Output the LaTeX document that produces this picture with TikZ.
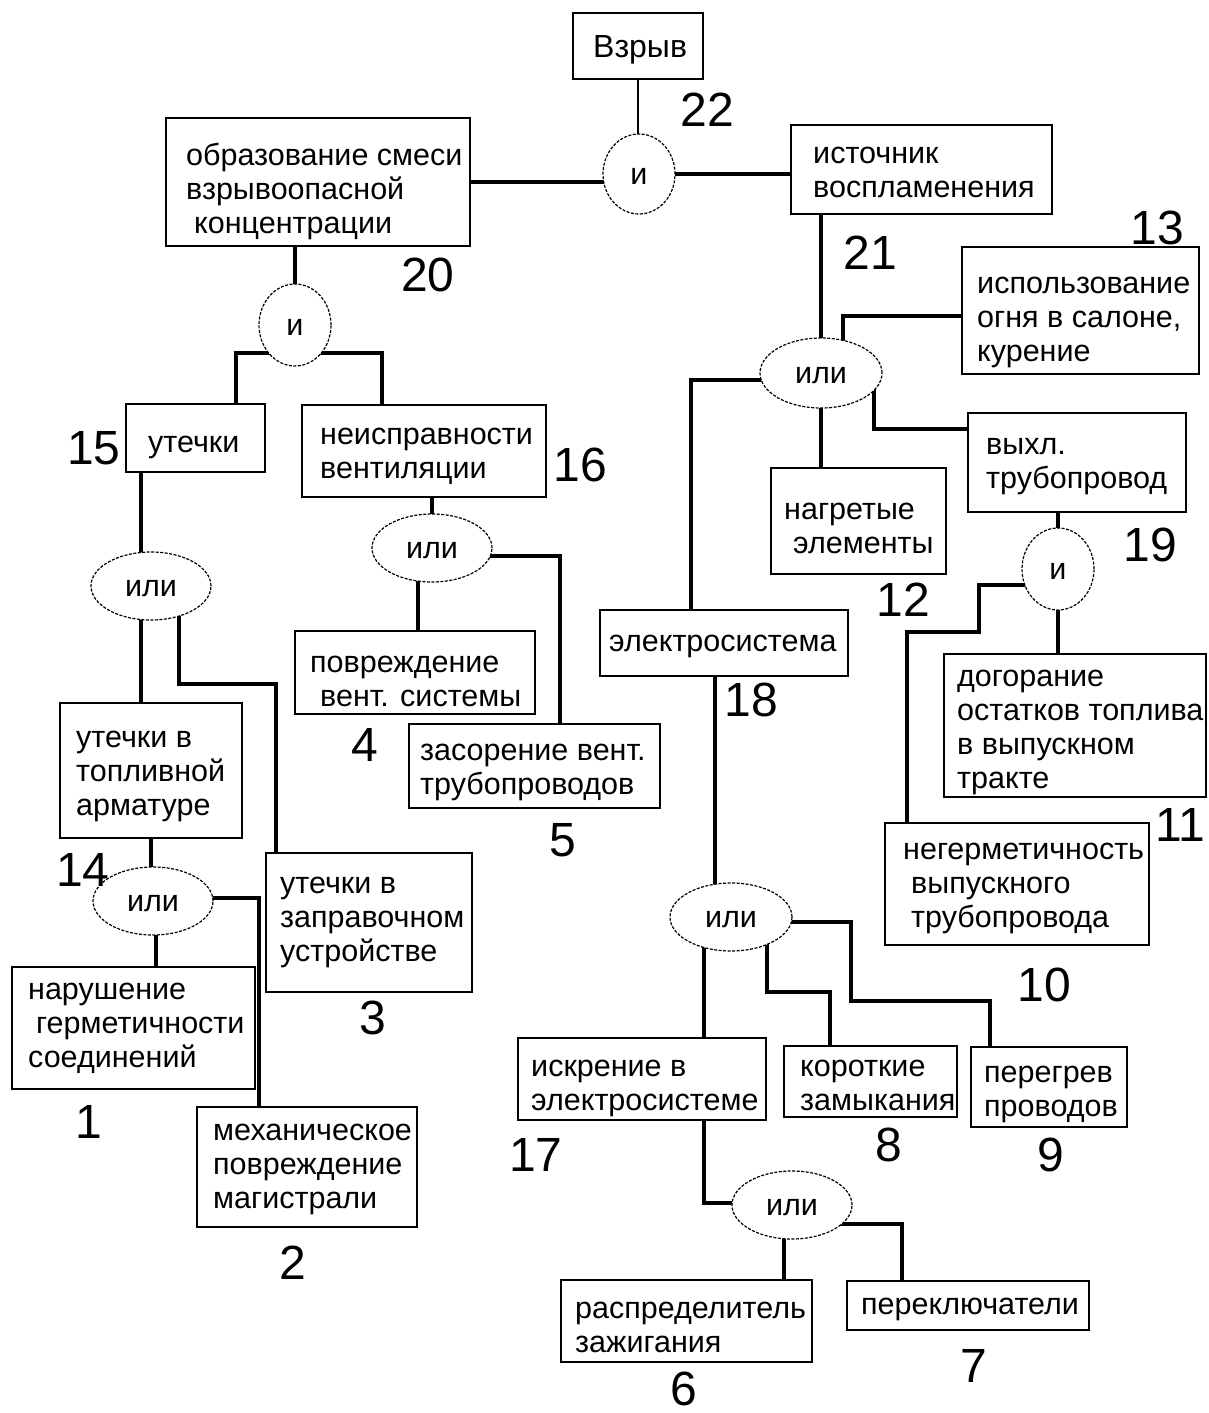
\documentclass[tikz,border=0pt]{standalone}
\usepackage{fontspec}
\setmainfont{Liberation Sans}
\usetikzlibrary{shapes.geometric,calc}
\pgfdeclarelayer{bg}
\pgfsetlayers{bg,main}
\begin{document}
\begin{tikzpicture}[x=1pt,y=-1pt,
 box/.style={draw=black, line width=1.6pt, rectangle, inner sep=0pt},
 gate/.style={ellipse, draw=black, line width=1.2pt, dash pattern=on 3pt off 1.5pt, fill=white, inner sep=0pt, text height=20pt, text depth=0pt, font=\fontsize{30.5}{34}\selectfont},
 txt/.style={anchor=west, align=left, inner sep=0pt, yshift=-4pt, font=\fontsize{30.5}{34}\selectfont},
 num/.style={inner sep=0pt, font=\fontsize{48}{50}\selectfont},
 conn/.style={line width=4pt},
 thinconn/.style={line width=2pt}]
\useasboundingbox (0,0) rectangle (1208,1413);

% boxes
\node[box, minimum width=130pt, minimum height=66pt] (B22) at (638,46) {};
\node[box, minimum width=261pt, minimum height=89pt] (B21) at (921.5,169.5) {};
\node[box, minimum width=304pt, minimum height=128pt] (B20) at (318,182) {};
\node[box, minimum width=139pt, minimum height=68pt] (B15) at (195.5,438) {};
\node[box, minimum width=244pt, minimum height=92pt] (B16) at (424,451) {};
\node[box, minimum width=237pt, minimum height=127pt] (B13) at (1080.5,310.5) {};
\node[box, minimum width=218pt, minimum height=99pt] (B19) at (1077,462.5) {};
\node[box, minimum width=175pt, minimum height=106pt] (B12) at (858.5,521) {};
\node[box, minimum width=248pt, minimum height=66pt] (B18) at (724,643) {};
\node[box, minimum width=182pt, minimum height=135pt] (B14) at (151,770.5) {};
\node[box, minimum width=240pt, minimum height=83pt] (B4) at (415,672.5) {};
\node[box, minimum width=251pt, minimum height=84pt] (B5) at (534.5,766) {};
\node[box, minimum width=206pt, minimum height=139pt] (B3) at (369,922.5) {};
\node[box, minimum width=243pt, minimum height=122pt] (B1) at (133.5,1028) {};
\node[box, minimum width=220pt, minimum height=120pt] (B2) at (307,1167) {};
\node[box, minimum width=262pt, minimum height=143pt] (B11) at (1075,725.5) {};
\node[box, minimum width=264pt, minimum height=122pt] (B10) at (1017,884) {};
\node[box, minimum width=248pt, minimum height=82pt] (B17) at (642,1079) {};
\node[box, minimum width=173pt, minimum height=71pt] (B8) at (870.5,1081.5) {};
\node[box, minimum width=156pt, minimum height=80pt] (B9) at (1049,1087) {};
\node[box, minimum width=251pt, minimum height=82pt] (B6) at (686.5,1321) {};
\node[box, minimum width=242pt, minimum height=49pt] (B7) at (968,1305.5) {};

% texts
\node[txt, font=\fontsize{32}{36}\selectfont] (T22) at (593,46) {Взрыв};
\node[txt] (T21) at (813,168) {источник\\воспламенения};
\node[txt] (T20) at (186,187) {образование смеси\\взрывоопасной\\\hspace*{8pt}концентрации};
\node[txt] (T15) at (148,443) {утечки};
\node[txt] (T16) at (320,452) {неисправности\\вентиляции};
\node[txt] (T13) at (977,318) {использование\\огня в салоне,\\курение};
\node[txt] (T19) at (986,463) {выхл.\\трубопровод};
\node[txt] (T12) at (784,524) {нагретые\\\hspace*{9pt}элементы};
\node[txt] (T18) at (609,642) {электросистема};
\node[txt] (T14) at (76,772) {утечки в\\топливной\\арматуре};
\node[txt] (T4) at (310,677) {повреждение\\\hspace*{10pt}вент. системы};
\node[txt] (T5) at (420,768) {засорение вент.\\трубопроводов};
\node[txt] (T3) at (280,918) {утечки в\\заправочном\\устройстве};
\node[txt] (T1) at (28,1024) {нарушение\\\hspace*{8pt}герметичности\\соединений};
\node[txt] (T2) at (213,1165) {механическое\\повреждение\\магистрали};
\node[txt] (T11) at (957,728) {догорание\\остатков топлива\\в выпускном\\тракте};
\node[txt] (T10) at (903,884) {негерметичность\\\hspace*{8pt}выпускного\\\hspace*{8pt}трубопровода};
\node[txt] (T17) at (531,1084) {искрение в\\электросистеме};
\node[txt] (T8) at (800,1081) {короткие\\замыкания};
\node[txt] (T9) at (984,1090) {перегрев\\проводов};
\node[txt] (T6) at (575,1323) {распределитель\\зажигания};
\node[txt] (T7) at (861,1305) {переключатели};

% gates
\node[gate, minimum width=72pt, minimum height=80pt] (G22) at (639,174) {и};
\node[gate, minimum width=72pt, minimum height=82pt] (G20) at (295,325) {и};
\node[gate, minimum width=120pt, minimum height=68pt] (G15) at (151,586) {или};
\node[gate, minimum width=120pt, minimum height=68pt] (G14) at (153,901) {или};
\node[gate, minimum width=120pt, minimum height=68pt] (G16) at (432,548) {или};
\node[gate, minimum width=122pt, minimum height=70pt] (G21) at (821,373) {или};
\node[gate, minimum width=72pt, minimum height=82pt] (G19) at (1058,569) {и};
\node[gate, minimum width=122pt, minimum height=68pt] (G18) at (731,917) {или};
\node[gate, minimum width=120pt, minimum height=68pt] (G17) at (792,1205) {или};

% number labels
\node[num] (L22) at (707,110) {22};
\node[num] (L20) at (428,275) {20};
\node[num] (L21) at (870,253) {21};
\node[num] (L13) at (1157,228) {13};
\node[num] (L15) at (94,448) {15};
\node[num] (L16) at (580,465) {16};
\node[num] (L19) at (1150,545) {19};
\node[num] (L12) at (903,600) {12};
\node[num] (L18) at (751,700) {18};
\node[num] (L4) at (365,745) {4};
\node[num] (L5) at (563,840) {5};
\node[num] (L14) at (83,870) {14};
\node[num] (L11) at (1180,825) {11};
\node[num] (L3) at (373,1018) {3};
\node[num] (L10) at (1044,985) {10};
\node[num] (L1) at (89,1122) {1};
\node[num] (L2) at (293,1263) {2};
\node[num] (L17) at (536,1155) {17};
\node[num] (L8) at (889,1145) {8};
\node[num] (L9) at (1051,1155) {9};
\node[num] (L6) at (684,1389) {6};
\node[num] (L7) at (974,1366) {7};

% junction coordinates
\coordinate (k13a) at (236,353);
\coordinate (k13b) at (382,353);
\coordinate (k15) at (141,586);
\coordinate (k17a) at (179,586);
\coordinate (k17b) at (179,684);
\coordinate (k17c) at (276,684);
\coordinate (k18) at (151,901);
\coordinate (k19) at (156,901);
\coordinate (k20) at (259,898);
\coordinate (k22) at (418,548);
\coordinate (k23) at (560,556);
\coordinate (k5) at (843,316);
\coordinate (k6a) at (874,373);
\coordinate (k6b) at (874,429);
\coordinate (k8) at (691,380);
\coordinate (k10a) at (979,585);
\coordinate (k10b) at (979,632);
\coordinate (k10c) at (907,632);
\coordinate (k24) at (715,917);
\coordinate (k25) at (704,917);
\coordinate (k26a) at (767,917);
\coordinate (k26b) at (767,992);
\coordinate (k26c) at (830,992);
\coordinate (k27a) at (851,922);
\coordinate (k27b) at (851,1001);
\coordinate (k27c) at (990,1001);
\coordinate (k28) at (704,1203);
\coordinate (k29) at (784,1205);
\coordinate (k30) at (902,1224);

\begin{pgfonlayer}{bg}
\draw[thinconn] (B22.south) -- (B22.south |- G22.center);
\draw[conn] (B20.east) -- (B20.east -| G22.center);
\draw[conn] (G22.center) -- (G22.center -| B21.west);
\draw[conn] (B20.south -| G20.center) -- (G20.center);
\draw[conn] (k13a |- B15.north) -- (k13a) -- (k13b) -- (k13b |- B16.north);
\draw[conn] (B15.south -| k15) -- (k15) -- (k15 |- B14.north);
\draw[conn] (k17a) -- (k17b) -- (k17c) -- (k17c |- B3.north);
\draw[conn] (B14.south -| k18) -- (k18);
\draw[conn] (k19) -- (k19 |- B1.north);
\draw[conn] (G14.center |- k20) -- (k20) -- (k20 |- B2.north);
\draw[conn] (B16.south -| G16.center) -- (G16.center);
\draw[conn] (k22) -- (k22 |- B4.north);
\draw[conn] (G16.center |- k23) -- (k23) -- (k23 |- B5.north);
\draw[conn] (B21.south -| G21.center) -- (G21.center);
\draw[conn] (B13.west |- k5) -- (k5) -- (k5 |- G21.center);
\draw[conn] (k6a) -- (k6b) -- (k6b -| B19.west);
\draw[conn] (G21.center) -- (G21.center |- B12.north);
\draw[conn] (G21.center |- k8) -- (k8) -- (k8 |- B18.north);
\draw[conn] (B19.south -| G19.center) -- (G19.center);
\draw[conn] (G19.center |- k10a) -- (k10a) -- (k10b) -- (k10c) -- (k10c |- B10.north);
\draw[conn] (G19.center) -- (G19.center |- B11.north);
\draw[conn] (B18.south -| k24) -- (k24);
\draw[conn] (k25) -- (k25 |- B17.north);
\draw[conn] (k26a) -- (k26b) -- (k26c) -- (k26c |- B8.north);
\draw[conn] (G18.center |- k27a) -- (k27a) -- (k27b) -- (k27c) -- (k27c |- B9.north);
\draw[conn] (B17.south -| k28) -- (k28) -- (k28 -| G17.center);
\draw[conn] (k29) -- (k29 |- B6.north);
\draw[conn] (G17.center |- k30) -- (k30) -- (k30 |- B7.north);
\end{pgfonlayer}
\end{tikzpicture}
\end{document}
